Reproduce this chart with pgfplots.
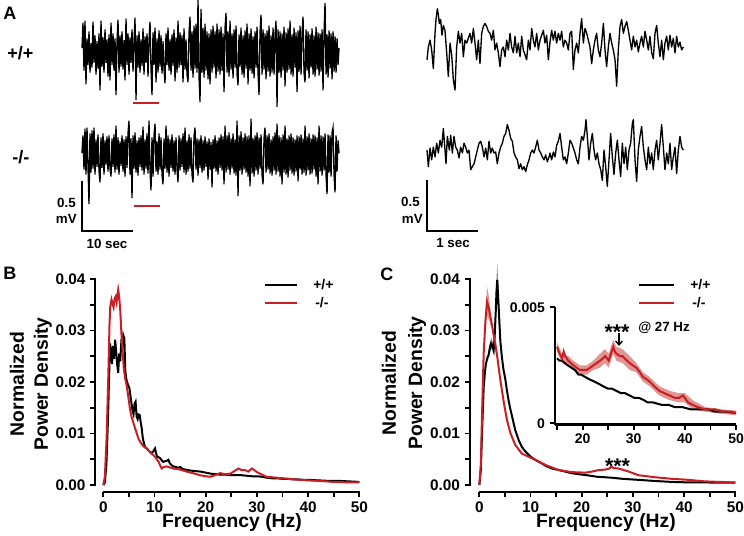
\documentclass[border=0pt]{standalone}
\usepackage{fontspec}
\setmainfont{Liberation Sans}
\usepackage{pgfplots}
\pgfplotsset{compat=1.18}
\usetikzlibrary{arrows.meta}

\definecolor{kored}{RGB}{200,30,36}
\definecolor{bandred}{RGB}{226,150,148}

\pgfplotsset{
  trace/.style={scale only axis, hide axis, clip=false, anchor=south west,
    width=192.75pt, height=88.2pt, ymin=-0.6, ymax=0.6},
}
\newcommand{\lab}[1]{\fontsize{#1}{#1}\selectfont\bfseries}

\begin{document}
% picture coordinates are reference pixels: x right, y down (1 px = 0.75 pt)
\begin{tikzpicture}[x=0.75pt,y=-0.75pt]

% ---------- A: 50 s traces (one value per sample) ----------
\begin{axis}[trace, xmin=0, xmax=257, at={(61.5pt,-83.85pt)}]
\addplot[black, line width=1pt] table[row sep=\\, header=false, x expr=\coordindex, y index=0] {
0.05\\0.31\\-0.18\\0.33\\-0.32\\0.15\\-0.12\\0.22\\-0.2\\0.1\\
-0.15\\0.32\\-0.1\\0.18\\-0.22\\0.12\\-0.16\\0.2\\-0.38\\0.33\\
-0.14\\0.16\\-0.2\\0.24\\-0.1\\0.14\\-0.24\\0.19\\-0.28\\0.31\\
-0.12\\0.2\\-0.18\\0.15\\-0.43\\0.12\\0.34\\-0.2\\0.18\\-0.14\\
0.22\\-0.17\\0.13\\-0.28\\0.35\\-0.12\\0.2\\-0.22\\0.16\\-0.1\\
0.24\\-0.19\\0.12\\0.36\\-0.48\\0.18\\-0.15\\0.22\\-0.2\\0.14\\
-0.13\\0.25\\-0.22\\0.17\\-0.1\\0.2\\-0.24\\0.13\\0.32\\-0.16\\
-0.43\\0.21\\-0.12\\0.26\\-0.3\\0.15\\-0.2\\0.23\\-0.14\\0.18\\
-0.21\\0.12\\-0.16\\-0.31\\0.2\\-0.12\\0.26\\-0.18\\0.14\\-0.22\\
0.19\\-0.13\\0.24\\-0.29\\0.16\\-0.2\\0.33\\-0.15\\0.21\\-0.12\\
0.18\\-0.3\\0.25\\-0.17\\0.14\\-0.22\\-0.3\\0.2\\0.37\\-0.18\\
0.22\\-0.25\\0.28\\-0.16\\0.3\\-0.2\\0.54\\-0.24\\-0.5\\0.45\\
-0.2\\0.26\\-0.25\\0.3\\-0.18\\0.22\\-0.27\\0.2\\-0.32\\0.24\\
-0.2\\0.28\\-0.15\\0.22\\-0.26\\0.3\\-0.19\\0.24\\-0.22\\0.27\\
-0.18\\0.2\\-0.4\\0.25\\0.41\\-0.2\\0.22\\-0.24\\0.33\\-0.17\\
0.2\\-0.26\\0.24\\-0.15\\0.28\\-0.21\\-0.33\\0.19\\-0.14\\0.26\\
-0.22\\0.18\\-0.25\\0.23\\-0.16\\0.3\\-0.32\\0.2\\-0.18\\0.25\\
-0.21\\0.17\\-0.26\\0.22\\-0.15\\0.27\\-0.2\\-0.43\\0.21\\0.39\\
-0.22\\0.24\\-0.17\\0.2\\-0.27\\0.23\\-0.19\\0.28\\-0.24\\0.18\\
-0.2\\0.26\\-0.22\\0.19\\0.33\\-0.55\\0.24\\-0.2\\0.22\\-0.25\\
0.2\\-0.18\\0.27\\-0.34\\0.21\\-0.2\\0.25\\-0.17\\0.33\\-0.22\\
0.19\\-0.24\\0.26\\-0.15\\0.21\\-0.4\\0.23\\-0.19\\0.28\\-0.22\\
0.2\\0.37\\-0.2\\-0.3\\0.24\\-0.18\\0.22\\-0.26\\0.19\\-0.15\\
0.25\\-0.22\\0.18\\-0.24\\0.27\\-0.17\\0.21\\-0.23\\0.2\\-0.19\\
0.24\\-0.38\\0.2\\0.51\\-0.22\\0.19\\-0.25\\0.23\\-0.16\\0.2\\
-0.27\\0.22\\-0.19\\0.17\\-0.2\\0.15\\-0.12\\0.05\\
};
\end{axis}

\begin{axis}[trace, xmin=0, xmax=257, at={(61.5pt,-160.35pt)}]
\addplot[black, line width=1pt] table[row sep=\\, header=false, x expr=\coordindex, y index=0] {
0.02\\0.2\\-0.15\\0.27\\-0.2\\0.28\\-0.12\\-0.5\\0.22\\-0.18\\
0.25\\-0.14\\0.28\\-0.2\\0.16\\-0.12\\0.21\\-0.16\\-0.28\\0.18\\
-0.13\\0.22\\-0.2\\0.15\\-0.1\\0.19\\-0.17\\0.2\\-0.14\\-0.22\\
0.17\\-0.12\\0.21\\-0.18\\0.3\\-0.15\\0.18\\-0.2\\0.14\\-0.11\\
0.2\\-0.17\\0.16\\-0.22\\0.19\\-0.13\\0.22\\0.35\\-0.2\\0.17\\
-0.44\\0.2\\-0.14\\0.23\\-0.18\\0.15\\-0.21\\0.18\\-0.12\\0.2\\
-0.16\\0.29\\-0.2\\0.16\\-0.14\\0.22\\-0.19\\0.35\\-0.15\\-0.36\\
0.18\\-0.22\\0.2\\0.32\\-0.17\\0.14\\-0.2\\0.22\\-0.15\\0.18\\
-0.2\\-0.3\\0.17\\-0.14\\0.3\\-0.18\\0.2\\-0.22\\0.16\\-0.13\\
0.21\\-0.17\\0.15\\-0.2\\0.18\\-0.14\\-0.28\\0.2\\-0.16\\0.17\\
-0.12\\0.22\\-0.18\\0.28\\-0.2\\0.15\\-0.17\\0.21\\-0.14\\0.18\\
-0.2\\-0.28\\0.19\\0.28\\-0.15\\0.17\\-0.21\\0.16\\-0.13\\0.2\\
-0.18\\0.15\\-0.16\\0.19\\-0.12\\0.14\\-0.25\\0.17\\-0.15\\0.13\\
-0.33\\0.16\\-0.14\\0.2\\-0.17\\0.15\\-0.2\\0.18\\-0.13\\0.21\\
-0.16\\0.19\\-0.3\\0.3\\-0.18\\0.2\\-0.15\\0.23\\-0.2\\0.17\\
-0.14\\0.22\\-0.19\\0.16\\-0.21\\0.35\\-0.42\\0.2\\-0.16\\0.24\\
-0.2\\0.18\\-0.15\\0.22\\-0.18\\0.19\\-0.22\\0.2\\-0.32\\0.37\\
-0.19\\0.17\\-0.22\\0.2\\-0.16\\0.23\\-0.2\\0.18\\-0.14\\0.21\\
-0.2\\-0.3\\0.17\\0.28\\-0.18\\0.2\\-0.15\\0.22\\-0.19\\0.16\\
-0.21\\0.19\\-0.16\\0.23\\-0.2\\0.32\\-0.17\\0.2\\-0.22\\0.18\\
-0.3\\0.21\\-0.18\\0.3\\-0.2\\0.17\\-0.23\\0.2\\-0.16\\0.22\\
-0.19\\0.18\\-0.21\\0.16\\-0.17\\0.2\\-0.27\\0.19\\-0.15\\0.21\\
-0.2\\0.17\\-0.18\\0.3\\-0.21\\0.19\\-0.16\\0.22\\-0.2\\0.17\\
-0.19\\0.21\\-0.15\\0.2\\-0.22\\0.18\\-0.3\\0.3\\-0.17\\0.2\\
-0.21\\0.19\\-0.16\\0.22\\-0.2\\-0.4\\0.21\\-0.18\\0.2\\-0.22\\
0.23\\0.28\\-0.2\\-0.38\\0.2\\-0.17\\0.15\\0.02\\
};
\end{axis}

% ---------- A: 5 s expanded traces (time in s, mV) ----------
\begin{axis}[trace, xmin=0, xmax=5, at={(320.25pt,-79.35pt)}]
\addplot[black, line width=1pt, line join=round] coordinates {
(0,-0.13)(0.026,0)(0.059,0.07)(0.091,-0.03)(0.123,-0.22)(0.156,0.14)(0.175,0.28)(0.201,0.39)
(0.221,0.33)(0.24,0.24)(0.266,0.28)(0.292,0.12)(0.318,0.22)(0.35,0.17)(0.383,-0.06)(0.415,-0.3)
(0.448,0.04)(0.48,-0.08)(0.513,-0.34)(0.545,-0.44)(0.577,0)(0.61,0.16)(0.642,0.04)(0.675,0.14)
(0.707,-0.1)(0.739,0.07)(0.772,0.04)(0.804,0.09)(0.837,0.14)(0.869,0.04)(0.902,0.19)(0.934,0.04)
(0.966,-0.13)(0.999,0.07)(1.031,-0.17)(1.064,0.14)(1.096,0.21)(1.128,0.24)(1.161,0.21)(1.193,0.16)
(1.226,0.14)(1.258,0.07)(1.291,0.17)(1.323,-0.03)(1.356,0.04)(1.388,-0.06)(1.42,-0.2)(1.453,-0.03)
(1.485,0)(1.518,-0.1)(1.55,0.07)(1.583,-0.03)(1.615,0.14)(1.647,0)(1.68,-0.06)(1.712,0.11)
(1.745,-0.06)(1.777,0.04)(1.81,-0.1)(1.842,0.11)(1.874,-0.03)(1.907,-0.08)(1.939,-0.13)(1.972,0.07)
(2.004,-0.03)(2.037,0.19)(2.069,0.07)(2.1,0)(2.134,0.14)(2.166,-0.03)(2.199,0.07)(2.231,0.12)
(2.264,0.17)(2.296,0.04)(2.328,0.12)(2.361,-0.13)(2.393,0.05)(2.425,0.17)(2.458,0.07)(2.49,0.16)
(2.523,0.04)(2.555,0.14)(2.588,0.07)(2.62,0.16)(2.652,0)(2.685,0.07)(2.717,0.04)(2.75,-0.03)
(2.782,0.14)(2.815,0.16)(2.847,-0.23)(2.879,-0.03)(2.912,0.04)(2.944,-0.06)(2.977,0.14)(3.009,0.29)
(3.042,0.04)(3.074,0.19)(3.106,0.14)(3.139,0.07)(3.171,0)(3.204,-0.17)(3.236,-0.03)(3.268,0.07)
(3.3,0.14)(3.333,-0.03)(3.366,-0.1)(3.398,0.04)(3.431,0.24)(3.463,-0.03)(3.495,-0.2)(3.528,0)
(3.56,0.14)(3.593,0.04)(3.625,-0.03)(3.658,-0.13)(3.69,-0.4)(3.722,-0.03)(3.755,0.21)(3.787,0.28)
(3.82,0.14)(3.852,0.21)(3.885,0.26)(3.917,0.17)(3.949,0.07)(3.982,-0.03)(4.014,0.11)(4.047,0)
(4.079,0.07)(4.111,-0.05)(4.144,0.04)(4.176,0.11)(4.209,0)(4.241,0.16)(4.274,0.07)(4.306,-0.03)
(4.338,0.11)(4.371,-0.06)(4.403,-0.12)(4.436,0.14)(4.468,0.22)(4.5,0.04)(4.533,-0.1)(4.565,0.07)
(4.598,-0.13)(4.63,0.04)(4.663,0.11)(4.695,-0.03)(4.727,0.12)(4.76,0)(4.792,0.09)(4.825,-0.06)
(4.857,0.11)(4.889,0)(4.922,0.05)(4.954,-0.03)(4.987,0)
};
\end{axis}

\begin{axis}[trace, xmin=0, xmax=5, at={(320.25pt,-158.85pt)}]
\addplot[black, line width=1pt, line join=round] coordinates {
(0,0.03)(0.026,-0.14)(0.059,0.05)(0.091,-0.07)(0.123,0.06)(0.156,-0.04)(0.188,0.1)(0.221,0)
(0.253,0.13)(0.286,0.06)(0.318,0.25)(0.35,0.03)(0.37,-0.11)(0.396,0.17)(0.435,0.03)(0.461,0.18)
(0.493,0)(0.525,0.17)(0.558,0.06)(0.59,0.03)(0.623,-0.05)(0.655,0.06)(0.688,0)(0.72,0.1)
(0.752,0.06)(0.785,0)(0.817,0.03)(0.85,-0.17)(0.882,-0.14)(0.915,-0.11)(0.947,-0.04)(0.979,0.03)
(1.012,0.1)(1.044,0.12)(1.077,0.06)(1.109,-0.04)(1.142,0.05)(1.174,-0.07)(1.206,0.12)(1.239,0)
(1.271,0.05)(1.304,0)(1.336,0.01)(1.368,-0.11)(1.401,0)(1.433,0.06)(1.466,0.1)(1.498,0.17)
(1.531,0.2)(1.563,0.29)(1.596,0.23)(1.628,0.15)(1.66,0.12)(1.693,0)(1.725,-0.04)(1.758,-0.07)
(1.79,-0.16)(1.822,-0.11)(1.855,-0.17)(1.887,-0.14)(1.92,-0.19)(1.952,-0.12)(1.985,-0.07)(2.017,0)
(2.049,0.03)(2.082,0)(2.114,0.06)(2.147,0.13)(2.179,0.03)(2.212,0)(2.244,-0.04)(2.276,-0.07)
(2.309,-0.02)(2.341,-0.09)(2.374,-0.04)(2.393,0)(2.425,-0.07)(2.458,0.01)(2.49,-0.04)(2.523,0.08)
(2.555,0.12)(2.588,0.2)(2.62,0.06)(2.652,-0.07)(2.685,-0.04)(2.717,-0.11)(2.75,0)(2.782,0.13)
(2.815,0.1)(2.847,0.05)(2.879,0)(2.912,-0.07)(2.944,-0.11)(2.977,0.06)(3.009,0.17)(3.042,0.13)
(3.074,0.23)(3.093,0.34)(3.119,0.17)(3.152,-0.07)(3.184,0.1)(3.217,0.2)(3.249,0.03)(3.281,-0.07)
(3.314,0)(3.346,-0.11)(3.379,-0.17)(3.411,-0.28)(3.444,0.03)(3.476,-0.14)(3.508,-0.34)(3.541,-0.07)
(3.573,0.2)(3.606,-0.04)(3.638,-0.22)(3.671,0)(3.703,0.13)(3.735,-0.07)(3.768,-0.24)(3.8,0.1)
(3.833,-0.11)(3.865,0.06)(3.897,-0.17)(3.93,0.03)(3.962,0.1)(3.995,0.3)(4.014,0.34)(4.047,-0.07)
(4.079,-0.29)(4.111,0.03)(4.144,0.17)(4.176,0.27)(4.209,0.06)(4.241,-0.07)(4.274,-0.17)(4.306,0.06)
(4.338,-0.11)(4.371,0)(4.403,-0.17)(4.436,0.03)(4.468,0.13)(4.5,-0.07)(4.533,0.1)(4.565,0.29)
(4.598,0.06)(4.63,-0.17)(4.663,0)(4.695,-0.11)(4.727,0.1)(4.76,-0.17)(4.792,-0.04)(4.825,0.06)
(4.857,-0.21)(4.889,0.03)(4.922,0.17)(4.954,0.06)(4.987,0.03)
};
\end{axis}

% scale bars, red segments and labels of A
\draw[line width=1.5pt] (82,181) -- (82,230.5) -- (133,230.5);
\draw[line width=1.5pt] (427,180) -- (427,230.5) -- (478,230.5);
\draw[kored, line width=2pt] (133,103) -- (159,103);
\draw[kored, line width=2pt] (134,206) -- (160,206);
\node[anchor=base west, inner sep=0, font=\lab{13.5}] at (3,19) {A};
\node[anchor=base west, inner sep=0, font=\lab{13.5}] at (7,59) {+/+};
\node[anchor=base west, inner sep=0, font=\lab{13.5}] at (12,163) {-/-};
\node[anchor=base east, inner sep=0, font=\lab{10}] at (76,207) {0.5};
\node[anchor=base east, inner sep=0, font=\lab{10}] at (77,223) {mV};
\node[anchor=base, inner sep=0, font=\lab{10}] at (107,248) {10 sec};
\node[anchor=base east, inner sep=0, font=\lab{10}] at (420,206) {0.5};
\node[anchor=base east, inner sep=0, font=\lab{10}] at (423,223) {mV};
\node[anchor=base, inner sep=0, font=\lab{10}] at (453,247) {1 sec};

% ---------- B ----------
\begin{axis}[scale only axis, clip=false, anchor=south west, width=192pt, height=154.5pt,
  at={(77.5pt,-363.75pt)}, xmin=0, xmax=50, ymin=0, ymax=0.04,
  axis lines*=left, axis line style={line width=1.7pt},
  axis x line shift=5pt, axis y line shift=6.2pt,
  tick align=outside, major tick length=3.75pt, minor tick length=3.75pt,
  tick style={black, line width=1.4pt},
  xtick={0,10,20,30,40,50}, minor xtick={5,15,25,35,45},
  ytick={0,0.01,0.02,0.03,0.04}, minor ytick={0.005,0.015,0.025,0.035},
  yticklabels={0.00,0.01,0.02,0.03,0.04}, scaled y ticks=false,
  tick label style={font=\fontsize{11.5}{13}\selectfont\bfseries},
  /pgf/number format/assume math mode=true]
\addplot[black, line width=1.5pt] coordinates {
(0,0)(0.3,0.0005)(0.6,0.004)(0.9,0.0125)(1.1,0.02)(1.3,0.0275)(1.5,0.026)(1.7,0.0235)(1.9,0.027)
(2.1,0.0245)(2.3,0.0282)(2.5,0.026)(2.7,0.0235)(2.9,0.0218)(3.1,0.0255)(3.3,0.024)(3.5,0.0275)
(3.7,0.027)(3.9,0.0291)(4.1,0.0285)(4.3,0.022)(4.5,0.0205)(4.8,0.0195)(5.1,0.0188)(5.4,0.0165)
(5.7,0.0145)(5.9,0.0138)(6.1,0.0158)(6.3,0.0162)(6.5,0.0133)(6.7,0.0128)(6.9,0.0137)(7.1,0.0136)
(7.3,0.0122)(7.5,0.011)(7.7,0.0092)(8.0,0.0078)(8.3,0.0072)(8.6,0.007)(8.9,0.0066)(9.2,0.0064)
(9.5,0.0062)(9.8,0.0066)(10.1,0.0071)(10.3,0.0062)(10.5,0.0055)(10.8,0.0054)(11.1,0.0052)
(11.4,0.0048)(11.7,0.0045)(12.0,0.0046)(12.4,0.0047)(12.7,0.0049)(13.0,0.0042)(13.4,0.0038)
(13.7,0.0036)(14.2,0.0035)(14.6,0.0033)(15.0,0.0035)(15.5,0.0031)(16.0,0.003)(16.5,0.0029)
(17,0.0028)(18,0.0027)(19,0.0026)(20,0.0024)(21,0.0022)(22,0.0021)(23,0.002)(24,0.002)(25,0.0019)
(26,0.0019)(27,0.0019)(28,0.0018)(29,0.0017)(30,0.0017)(31,0.0016)(32,0.0014)(33,0.0013)
(34,0.0013)(35,0.0012)(36,0.0012)(37,0.0011)(38,0.0011)(39,0.001)(40,0.001)(42,0.0009)
(44,0.0008)(46,0.0008)(48,0.0007)(50,0.0006)
};
\addplot[kored, line width=1.5pt] coordinates {
(0,0)(0.3,0.0016)(0.65,0.0094)(1.0,0.0223)(1.2,0.031)(1.35,0.0346)(1.6,0.036)(1.8,0.0352)
(2.0,0.0345)(2.2,0.0362)(2.4,0.0366)(2.6,0.0355)(2.75,0.0368)(2.9,0.0379)(3.1,0.0365)(3.3,0.034)
(3.5,0.03)(3.7,0.027)(4.0,0.0225)(4.3,0.0205)(4.6,0.0191)(4.9,0.017)(5.2,0.0148)(5.5,0.0133)
(5.9,0.012)(6.2,0.011)(6.5,0.0101)(6.9,0.0089)(7.2,0.0084)(7.6,0.0078)(8.0,0.0074)(8.5,0.0071)
(9.0,0.0065)(9.5,0.006)(9.8,0.0058)(10.2,0.0053)(10.8,0.0045)(11.1,0.0038)(11.4,0.0032)
(11.8,0.0035)(12.4,0.0036)(13,0.0034)(13.7,0.0032)(14.5,0.0031)(15.3,0.0029)(16.3,0.0026)
(17.5,0.0023)(18.9,0.0019)(20,0.0017)(20.9,0.0016)(21.8,0.0019)(22.8,0.0023)(23.8,0.0021)
(24.8,0.0022)(25.6,0.0027)(26.4,0.0032)(27.0,0.0029)(27.7,0.0029)(28.3,0.0026)(29.0,0.0032)
(29.5,0.0029)(30,0.0025)(31,0.002)(31.9,0.0016)(33,0.0015)(35.2,0.0013)(37,0.0011)(38.5,0.001)
(40,0.0009)(42,0.0008)(45,0.0006)(48,0.0005)(50,0.0005)
};
\end{axis}

% ---------- C ----------
\begin{axis}[scale only axis, clip=false, anchor=south west, width=192pt, height=154.5pt,
  at={(359.5pt,-363.75pt)}, xmin=0, xmax=50, ymin=0, ymax=0.04,
  axis lines*=left, axis line style={line width=1.7pt},
  axis x line shift=5pt, axis y line shift=7.2pt,
  tick align=outside, major tick length=3.75pt, minor tick length=3.75pt,
  tick style={black, line width=1.4pt},
  xtick={0,10,20,30,40,50}, minor xtick={5,15,25,35,45},
  ytick={0,0.01,0.02,0.03,0.04}, minor ytick={0.005,0.015,0.025,0.035},
  yticklabels={0.00,0.01,0.02,0.03,0.04}, scaled y ticks=false,
  tick label style={font=\fontsize{11.5}{13}\selectfont\bfseries},
  /pgf/number format/assume math mode=true]
\addplot[draw=none, fill=black, fill opacity=0.45] coordinates {
(1.8,0.0262)(2.1,0.0278)(2.3,0.0286)(2.5,0.0282)(2.8,0.0272)(3.0,0.031)(3.2,0.0355)(3.35,0.04)
(3.5,0.043)(3.65,0.04)(3.9,0.034)(4.1,0.029)(4.4,0.0255)(4.4,0.0243)(4.1,0.027)(3.9,0.030)
(3.65,0.0345)(3.5,0.0368)(3.35,0.035)(3.2,0.0318)(3.0,0.0272)(2.8,0.0252)(2.5,0.0262)(2.3,0.0264)
(2.1,0.0258)(1.8,0.0242)} -- cycle;
\addplot[draw=none, fill=bandred] coordinates {
(1.2,0.0335)(1.5,0.0385)(1.8,0.037)(2.0,0.0352)(2.3,0.0334)(2.3,0.0306)(2.0,0.0318)(1.8,0.0322)
(1.5,0.033)(1.2,0.0305)} -- cycle;
\addplot[black, line width=1.5pt] coordinates {
(0,0)(0.3,0.003)(0.5,0.0094)(0.85,0.019)(1.1,0.022)(1.3,0.0236)(1.6,0.0248)(1.8,0.0252)(2.1,0.0268)
(2.3,0.0275)(2.5,0.0272)(2.8,0.0262)(3.0,0.029)(3.2,0.0335)(3.35,0.0375)(3.5,0.0398)(3.65,0.037)
(3.9,0.032)(4.1,0.028)(4.4,0.0249)(4.7,0.0225)(5.1,0.0204)(5.4,0.0183)(5.7,0.0165)(6.0,0.015)
(6.4,0.0133)(7.0,0.0107)(7.7,0.0087)(8.3,0.0074)(9.0,0.0065)(9.5,0.006)(10.0,0.0055)(10.9,0.0049)
(12.2,0.0042)(13,0.0037)(14.2,0.0032)(15.5,0.0029)(16.8,0.0026)(18,0.0023)(19.4,0.0021)(21,0.0019)
(23,0.0016)(24.6,0.0015)(26,0.0014)(28,0.0012)(31.1,0.001)(34,0.0008)(37.6,0.0006)(41,0.0005)
(44.1,0.0005)(47,0.00045)(50,0.00045)
};
\addplot[kored, line width=1.5pt] coordinates {
(0,0)(0.3,0.004)(0.5,0.0126)(0.85,0.0256)(1.2,0.032)(1.5,0.0356)(1.8,0.0346)(2.0,0.0335)(2.3,0.032)
(2.8,0.0291)(3.1,0.0275)(3.5,0.0249)(4.1,0.0204)(4.8,0.0159)(5.4,0.0126)(6.1,0.01)(7.0,0.0078)
(8.3,0.0061)(9.6,0.0055)(10.9,0.0049)(12.9,0.0039)(15.5,0.0029)(18.1,0.0025)(20.7,0.0024)
(22,0.0026)(23.3,0.0029)(24.6,0.003)(25.4,0.0032)(25.8,0.0036)(26.2,0.0033)(27.2,0.0032)
(28.2,0.0029)(29.2,0.0026)(31.1,0.0019)(34.4,0.0015)(37.6,0.0012)(40.9,0.001)(44.1,0.0007)
(47,0.0006)(50,0.0005)
};
\end{axis}

% inset of C
\begin{axis}[scale only axis, clip=false, anchor=south west, width=136pt, height=87.9pt,
  at={(416.025pt,-318.375pt)}, xmin=14.55, xmax=50, ymin=-0.00005, ymax=0.005,
  axis lines*=left, axis line style={line width=1.7pt},
  tick align=outside, major tick length=3.75pt, minor tick length=3.75pt,
  tick style={black, line width=1.4pt},
  xtick={20,30,40,50}, minor xtick={15,25,35,45},
  ytick={0,0.005}, yticklabels={0,0.005}, scaled y ticks=false,
  tick label style={font=\fontsize{10.5}{12}\selectfont\bfseries},
  /pgf/number format/assume math mode=true]
\addplot[draw=none, fill=bandred] coordinates {
(15,0.0035)(16,0.003)(17.2,0.0029)(18.2,0.0027)(19.5,0.0025)(20.8,0.0025)(22.1,0.0027)(23.4,0.003)
(24.4,0.0032)(25.1,0.003)(26.0,0.0036)(26.6,0.0033)(27.8,0.0032)(29.2,0.0029)(30.5,0.0026)
(31.8,0.0022)(33.1,0.002)(35,0.0016)(37,0.0014)(38.9,0.0013)(40,0.0013)(41.5,0.001)(44,0.0007)
(47.4,0.0006)(50,0.00055)(50,0.00035)(47.4,0.0004)(44,0.0005)(41.5,0.0006)(40,0.0009)(38.9,0.0009)
(37,0.001)(35,0.0012)(33.1,0.0016)(31.8,0.0018)(30.5,0.0022)(29.2,0.0023)(27.8,0.0026)(26.6,0.0027)
(26.0,0.003)(25.1,0.0024)(24.4,0.0026)(23.4,0.0024)(22.1,0.0023)(20.8,0.0021)(19.5,0.0021)
(18.2,0.0023)(17.2,0.0025)(16,0.0026)(15,0.0031)} -- cycle;
\addplot[black, line width=1.5pt] coordinates {
(15,0.0028)(15.5,0.0027)(16,0.0027)(16.5,0.0026)(17.1,0.0025)(17.8,0.0024)(18.5,0.0023)(19.2,0.0021)
(19.7,0.0021)(20.5,0.002)(21.3,0.0019)(22.3,0.0018)(23.2,0.0017)(24,0.0016)(24.9,0.0015)(25.7,0.0015)
(26.6,0.0014)(27.5,0.0013)(28.3,0.0013)(29.2,0.0012)(30.1,0.0011)(31,0.0011)(32,0.001)(32.7,0.0009)
(33.8,0.0009)(35.4,0.0008)(36.8,0.0008)(38,0.0007)(39.5,0.0007)(41.2,0.0006)(43,0.0006)(44.5,0.0006)
(46,0.0005)(48,0.0005)(50,0.00045)
};
\addplot[kored, line width=1.5pt] coordinates {
(15,0.0033)(15.5,0.003)(16.0,0.0028)(16.3,0.0031)(16.6,0.0029)(17.2,0.0027)(17.7,0.0026)(18.2,0.0025)
(18.8,0.0024)(19.5,0.0023)(20.2,0.0023)(20.8,0.0023)(21.5,0.0024)(22.1,0.0025)(22.8,0.0026)
(23.4,0.0027)(24.0,0.0028)(24.4,0.0029)(24.8,0.0028)(25.1,0.0027)(25.4,0.0029)(25.7,0.0031)
(26.0,0.0033)(26.3,0.0031)(26.6,0.003)(27.3,0.0029)(27.8,0.0029)(28.2,0.0028)(28.7,0.0027)
(29.2,0.0026)(29.8,0.0025)(30.5,0.0024)(31.2,0.0022)(31.8,0.002)(32.5,0.0019)(33.1,0.0018)(34,0.0016)
(35,0.0014)(36,0.0013)(37,0.0012)(38,0.0011)(38.9,0.0011)(39.6,0.0012)(40.0,0.0011)(40.6,0.0009)
(41.5,0.0008)(42.5,0.0007)(44,0.0006)(46,0.0006)(47.4,0.0005)(49,0.0005)(50,0.00045)
};
\end{axis}

% labels of B and C
\node[anchor=base west, inner sep=0, font=\lab{13.5}] at (3,279) {B};
\node[anchor=base west, inner sep=0, font=\lab{13.5}] at (380,280) {C};
\node[rotate=90, inner sep=0, font=\lab{14.5}] at (17,384) {Normalized};
\node[rotate=90, inner sep=0, font=\lab{14.5}] at (43,384) {Power Density};
\node[rotate=90, inner sep=0, font=\lab{14.5}] at (389,383) {Normalized};
\node[rotate=90, inner sep=0, font=\lab{14.5}] at (417,383) {Power Density};
\node[anchor=base, inner sep=0, font=\lab{14.5}] at (232,527) {Frequency (Hz)};
\node[anchor=base, inner sep=0, font=\lab{14.5}] at (606,527) {Frequency (Hz)};

% legends
\draw[black, line width=1.7pt] (265,285) -- (297,285);
\draw[kored, line width=1.7pt] (265,303) -- (297,303);
\node[anchor=west, inner sep=0, font=\lab{10.5}] at (313,285) {+/+};
\node[anchor=west, inner sep=0, font=\lab{10.5}] at (315,303) {-/-};
\draw[black, line width=1.7pt] (639,285) -- (674,285);
\draw[kored, line width=1.7pt] (639,303) -- (674,303);
\node[anchor=west, inner sep=0, font=\lab{10.5}] at (690,285) {+/+};
\node[anchor=west, inner sep=0, font=\lab{10.5}] at (692,303) {-/-};

% significance marks
\node[anchor=base, inner sep=0, font=\lab{16}] at (617,339) {***};
\node[anchor=base west, inner sep=0, font=\lab{10}] at (638,331.7) {@ 27 Hz};
\draw[line width=1pt, -{Straight Barb[length=3pt, width=5pt]}] (619,333) -- (619,346);
\node[anchor=base, inner sep=0, font=\lab{16}] at (617.5,473) {***};

% offset axis lines and ticks of B and C (Prism style), in picture pixels
\draw[black, opacity=1, line width=1.7pt] (95,485.8) -- (95,278.2);
\draw[black, opacity=1, line width=1.7pt] (102.5,491.7) -- (360.1,491.7);
\draw[black, opacity=1, line width=1.7pt] (469.7,485.8) -- (469.7,278.2);
\draw[black, opacity=1, line width=1.7pt] (478.5,491.7) -- (736.1,491.7);
\draw[black, opacity=1, line width=1.4pt]
  (95,485)--(90,485) (95,459.25)--(90,459.25) (95,433.5)--(90,433.5) (95,407.75)--(90,407.75)
  (95,382)--(90,382) (95,356.25)--(90,356.25) (95,330.5)--(90,330.5) (95,304.75)--(90,304.75)
  (95,279)--(90,279)
  (469.7,485)--(464.7,485) (469.7,459.25)--(464.7,459.25) (469.7,433.5)--(464.7,433.5)
  (469.7,407.75)--(464.7,407.75) (469.7,382)--(464.7,382) (469.7,356.25)--(464.7,356.25)
  (469.7,330.5)--(464.7,330.5) (469.7,304.75)--(464.7,304.75) (469.7,279)--(464.7,279)
  (103.3,491.7)--(103.3,496.7) (128.9,491.7)--(128.9,496.7) (154.5,491.7)--(154.5,496.7)
  (180.1,491.7)--(180.1,496.7) (205.7,491.7)--(205.7,496.7) (231.3,491.7)--(231.3,496.7)
  (256.9,491.7)--(256.9,496.7) (282.5,491.7)--(282.5,496.7) (308.1,491.7)--(308.1,496.7)
  (333.7,491.7)--(333.7,496.7) (359.3,491.7)--(359.3,496.7)
  (479.3,491.7)--(479.3,496.7) (504.9,491.7)--(504.9,496.7) (530.5,491.7)--(530.5,496.7)
  (556.1,491.7)--(556.1,496.7) (581.7,491.7)--(581.7,496.7) (607.3,491.7)--(607.3,496.7)
  (632.9,491.7)--(632.9,496.7) (658.5,491.7)--(658.5,496.7) (684.1,491.7)--(684.1,496.7)
  (709.7,491.7)--(709.7,496.7) (735.3,491.7)--(735.3,496.7);

\pgfresetboundingbox
\path (0,0) rectangle (744,536);
\end{tikzpicture}
\end{document}
